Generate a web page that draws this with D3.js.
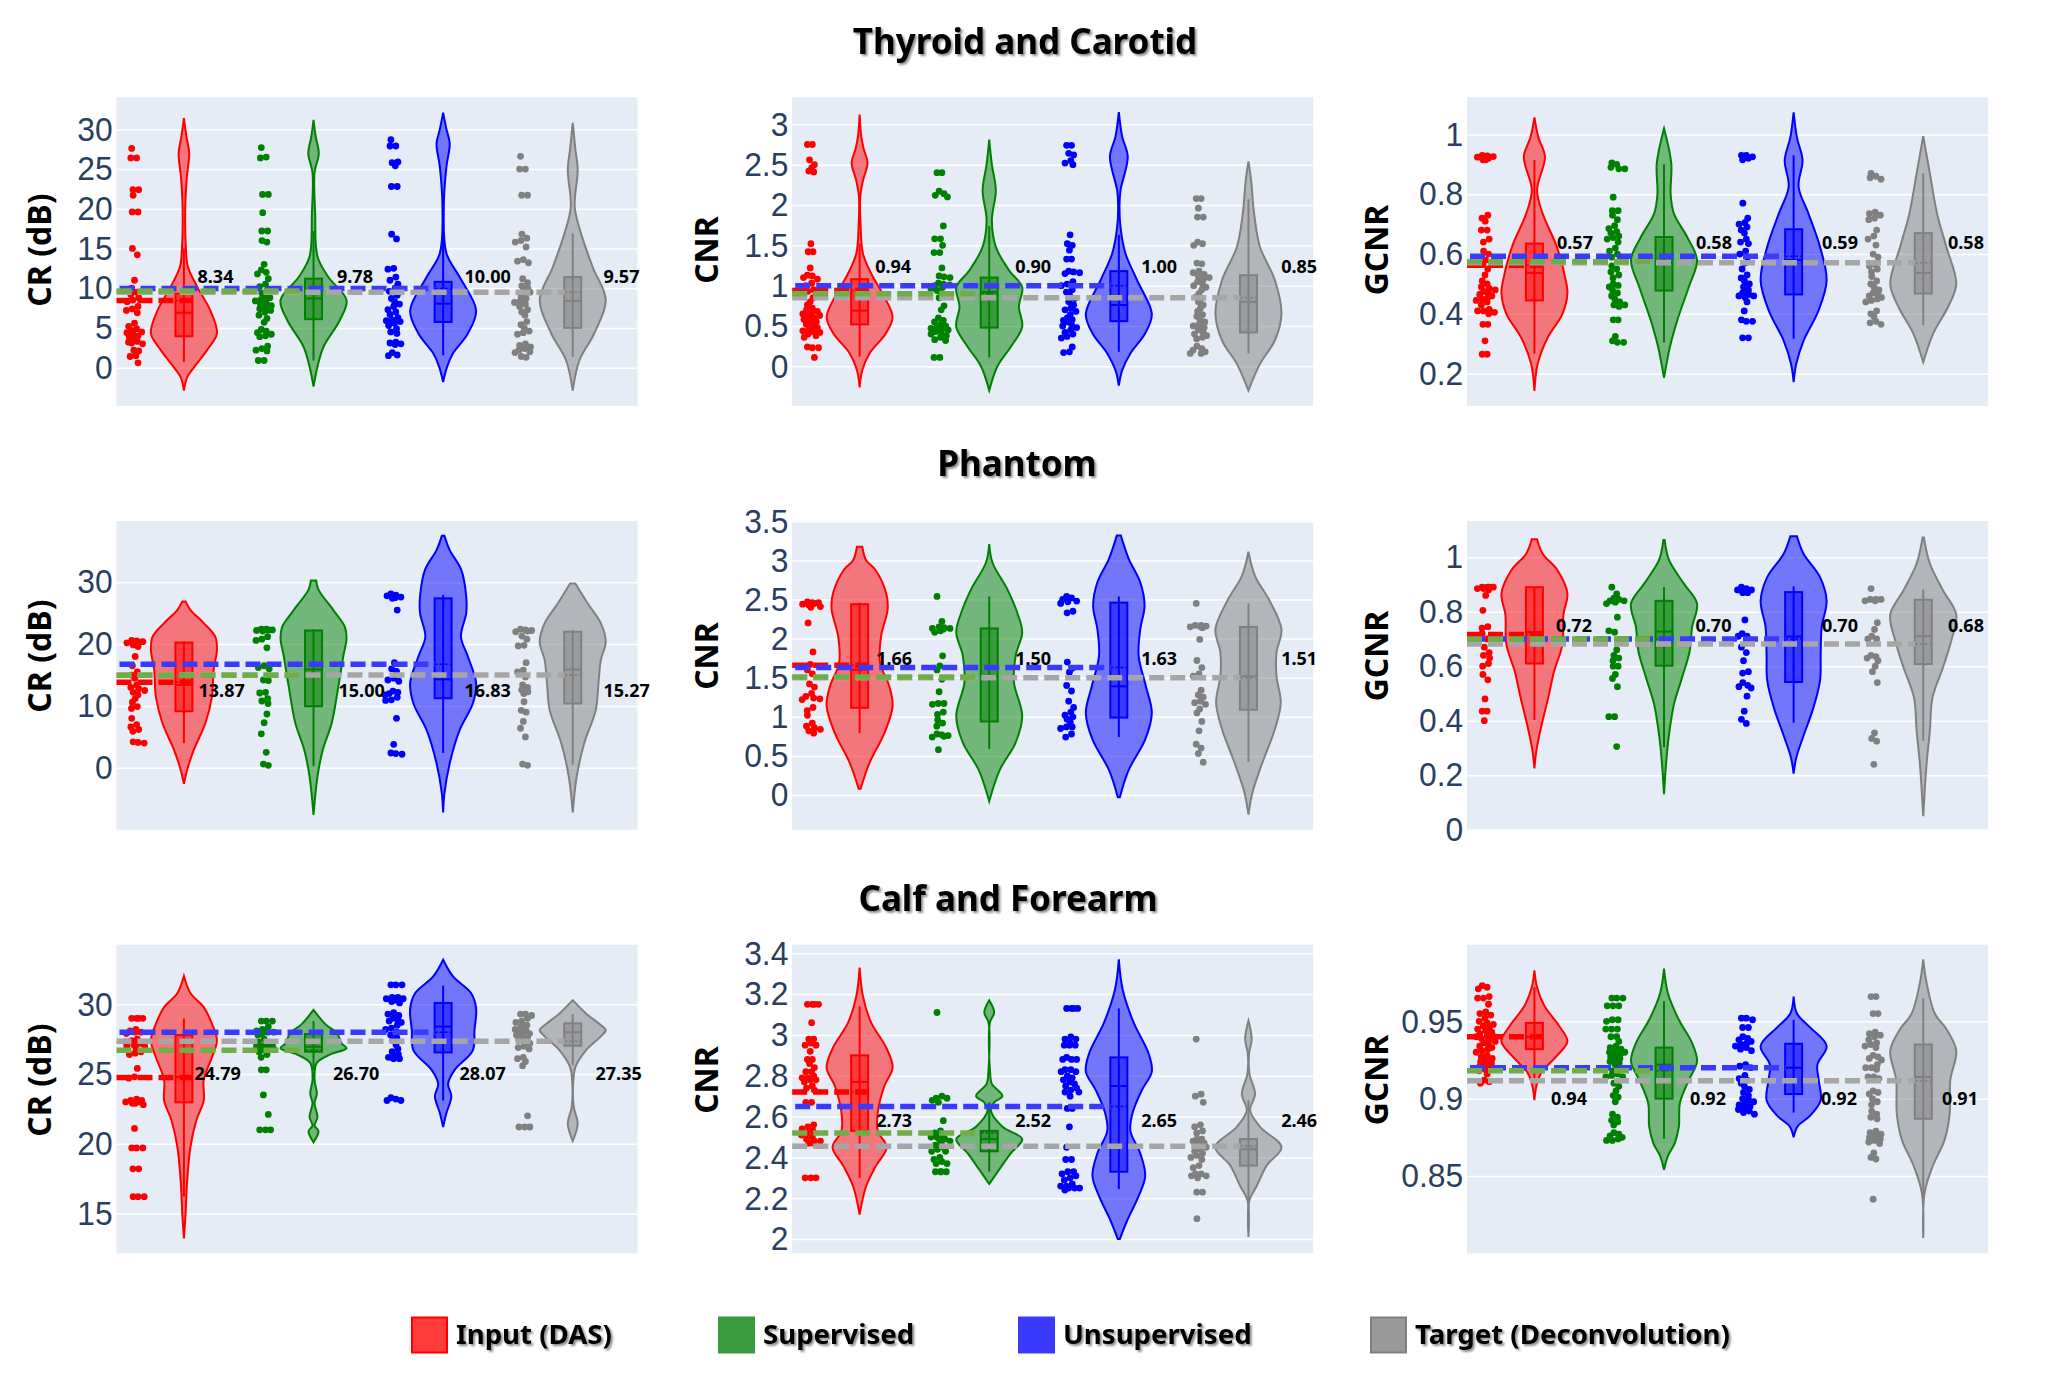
<!DOCTYPE html>
<html>
<head>
<meta charset="utf-8">
<script src="https://cdn.jsdelivr.net/npm/d3@7"></script>
<style>
  body { margin: 0; background: #fff; }
  .shadow { filter: drop-shadow(2px 2px 1px rgba(0,0,0,0.45)); }
</style>
</head>
<body>
<svg id="chart" width="2066" height="1377"></svg>
<script>
const groups = ['Input (DAS)', 'Supervised', 'Unsupervised', 'Target (Deconvolution)']
const rowTitles = ['Thyroid and Carotid', 'Phantom', 'Calf and Forearm']
const metricTitles = ['CR (dB)', 'CNR', 'GCNR']

// ---- Thyroid and Carotid, CR ----
const thyroidCrTicks = [0, 5, 10, 15, 20, 25, 30]
const thyroidCrDomain = [-4.83, 34.03]
const thyroidCrLabels = ['8.34', '9.78', '10.00', '9.57']
const thyroidCrMeans = [8.45, 9.66, 9.96, 9.5]
const thyroidCrBoxes = [[0.7, 3.95, 6.9, 9.3, 15], [0.9, 6.1, 8.7, 11.2, 17.2], [1.55, 5.75, 8.05, 10.8, 16.8], [1.35, 5, 8.4, 11.4, 16.9]]
const thyroidCrDensity = [
  [[31.4,0],[29,0.08],[27,0.16],[24,0.09],[20.2,0.04],[15,0.06],[12.7,0.12],[10.2,0.4],[7.2,0.8],[4.3,1],[2.2,0.7],[0,0.3],[-1.2,0.1],[-2.9,0]],
  [[31.2,0],[29,0.07],[27,0.16],[24.5,0.03],[19.4,0.05],[14,0.12],[11.4,0.45],[8.5,1],[6,0.8],[2.6,0.3],[0.1,0.12],[-2.4,0]],
  [[32.1,0],[30,0.1],[28.2,0.2],[25.3,0.1],[20.2,0.02],[14.4,0.1],[11.4,0.5],[7.2,1],[4.3,0.75],[1.8,0.3],[0.1,0.12],[-1.8,0]],
  [[30.8,0],[27.5,0.08],[24.9,0.15],[20.2,0.06],[16.9,0.25],[12.7,0.6],[8.5,1],[4.3,0.65],[0.9,0.2],[-2.9,0]]
]
const thyroidCrPoints = [
  [27.6,26.4,26.4,22.4,22.4,21.7,19.6,19.6,15,14.2,11,10,9.5,9.2,8.8,8.5,8.3,7.7,7.4,7.2,6.9,5.6,5.2,4.9,4.7,4.5,4.4,4.2,4,3.9,3.7,3.3,3.2,3.1,3,2.2,2.1,1.5,1.4,0.6],
  [27.7,26.5,26.4,21.8,21.8,19.5,17.2,17.2,16,15.8,13,12.3,12,11.8,11.2,10.5,10.2,9.8,9.4,9,8.8,8.6,8.4,8.2,8,7.8,7.6,7.4,7.2,7,6.6,6.2,5.7,4.8,4.6,4.4,4.2,4,3.9,2.7,2.4,2.2,2.1,0.9,0.9],
  [28.7,27.9,27.9,25.9,25.8,25.4,22.8,22.8,16.8,16.2,12.5,12.4,11.4,11,10.5,10,9.6,9.1,8.7,8.3,8,7.7,7.3,7,6.7,6.3,6,5.9,5.8,5.6,5.3,4.9,4.5,4.3,3.2,3.1,3,2.9,1.9,1.6,1.5],
  [26.6,25,25,21.7,21.7,16.8,16.3,16,15.8,15.2,13.6,13.4,13.2,11.2,10.7,10.3,10,9.8,9.5,9,8.7,8.4,8.2,8,7.7,7.3,7,6.6,5.8,5.4,5,4.6,4.4,4.2,3,2.8,2.6,2.4,2.2,2,1.9,1.4,1.3]
]

// ---- Thyroid and Carotid, CNR ----
const thyroidCnrTicks = [0, 0.5, 1, 1.5, 2, 2.5, 3]
const thyroidCnrDomain = [-0.492, 3.335]
const thyroidCnrLabels = ['0.94', '0.90', '1.00', '0.85']
const thyroidCnrMeans = [0.94, 0.9, 1, 0.85]
const thyroidCnrBoxes = [[0.12, 0.52, 0.69, 1.08, 1.52], [0.11, 0.48, 0.92, 1.1, 1.74], [0.18, 0.56, 0.76, 1.18, 1.63], [0.16, 0.42, 0.8, 1.13, 2.07]]
const thyroidCnrDensity = [
  [[3.12,0],[2.85,0.05],[2.7,0.12],[2.52,0.24],[2.3,0.1],[2.1,0.02],[1.75,0.03],[1.4,0.1],[1.15,0.35],[0.86,0.75],[0.61,1],[0.41,0.8],[0.16,0.3],[-0.05,0.08],[-0.26,0]],
  [[2.81,0],[2.5,0.08],[2.18,0.2],[1.81,0.08],[1.48,0.2],[1.19,0.6],[0.98,1],[0.74,0.9],[0.49,1],[0.24,0.65],[0,0.25],[-0.3,0]],
  [[3.15,0],[2.85,0.1],[2.6,0.27],[2.18,0.05],[1.98,0.02],[1.73,0.05],[1.4,0.2],[1.07,0.55],[0.65,1],[0.41,0.8],[0.16,0.35],[-0.05,0.1],[-0.24,0]],
  [[2.54,0],[2.31,0.08],[1.9,0.17],[1.48,0.35],[1.07,0.8],[0.65,1],[0.32,0.8],[0.03,0.35],[-0.3,0]]
]
const thyroidCnrPoints = [
  [2.75,2.75,2.56,2.5,2.46,2.42,2.41,1.52,1.42,1.42,1.22,1.13,1.12,1.1,1.08,1.03,1,0.95,0.93,0.9,0.85,0.8,0.76,0.72,0.7,0.68,0.66,0.65,0.63,0.62,0.6,0.58,0.56,0.55,0.52,0.5,0.48,0.45,0.44,0.43,0.42,0.4,0.38,0.36,0.24,0.23,0.23,0.11],
  [2.4,2.4,2.17,2.14,2.12,2.1,1.74,1.58,1.58,1.5,1.41,1.41,1.22,1.12,1.11,1.1,1.03,1.02,1.01,1,0.98,0.96,0.94,0.9,0.85,0.75,0.7,0.6,0.57,0.55,0.52,0.5,0.48,0.47,0.46,0.45,0.43,0.42,0.4,0.38,0.36,0.33,0.32,0.11,0.11],
  [2.74,2.74,2.64,2.62,2.55,2.52,2.5,1.63,1.52,1.5,1.44,1.33,1.33,1.18,1.17,1.16,1.15,1.05,1.02,1,0.95,0.92,0.88,0.84,0.8,0.76,0.72,0.7,0.68,0.64,0.6,0.58,0.57,0.55,0.52,0.5,0.48,0.45,0.42,0.4,0.37,0.35,0.24,0.18,0.17],
  [2.08,2.08,1.96,1.85,1.85,1.54,1.52,1.5,1.28,1.27,1.18,1.16,1.14,1.12,1.1,1.08,1.05,1.02,1,0.98,0.95,0.9,0.86,0.84,0.8,0.76,0.72,0.68,0.64,0.62,0.58,0.55,0.52,0.5,0.48,0.45,0.42,0.4,0.38,0.36,0.34,0.25,0.22,0.2,0.18,0.16,0.16]
]

// ---- Thyroid and Carotid, GCNR ----
const thyroidGcnrTicks = [0.2, 0.4, 0.6, 0.8, 1]
const thyroidGcnrDomain = [0.092, 1.124]
const thyroidGcnrLabels = ['0.57', '0.58', '0.59', '0.58']
const thyroidGcnrMeans = [0.5625, 0.574, 0.593, 0.571]
const thyroidGcnrBoxes = [[0.267, 0.445, 0.537, 0.635, 0.914], [0.304, 0.478, 0.57, 0.657, 0.9], [0.317, 0.465, 0.58, 0.683, 0.93], [0.362, 0.468, 0.537, 0.67, 0.87]]
const thyroidGcnrDensity = [
  [[1.057,0],[0.99,0.12],[0.925,0.32],[0.814,0.08],[0.735,0.25],[0.624,0.68],[0.512,0.95],[0.468,1],[0.4,0.85],[0.32,0.4],[0.233,0.1],[0.142,0]],
  [[1.02,0],[0.903,0.22],[0.8,0.2],[0.735,0.3],[0.657,0.7],[0.58,1],[0.49,0.75],[0.378,0.4],[0.29,0.18],[0.186,0]],
  [[1.074,0],[0.99,0.1],[0.914,0.27],[0.825,0.15],[0.735,0.45],[0.624,0.8],[0.512,1],[0.41,0.75],[0.31,0.3],[0.233,0.08],[0.172,0]],
  [[0.994,0],[0.87,0.2],[0.735,0.42],[0.624,0.7],[0.5,1],[0.423,0.75],[0.334,0.3],[0.238,0]]
]
const thyroidGcnrPoints = [
  [0.93,0.928,0.926,0.925,0.924,0.923,0.92,0.915,0.915,0.73,0.72,0.71,0.68,0.68,0.65,0.64,0.61,0.6,0.58,0.565,0.55,0.53,0.51,0.5,0.49,0.485,0.48,0.475,0.47,0.465,0.46,0.455,0.45,0.445,0.44,0.43,0.415,0.41,0.41,0.405,0.4,0.365,0.365,0.31,0.265,0.265],
  [0.905,0.9,0.89,0.885,0.885,0.79,0.745,0.745,0.73,0.715,0.695,0.685,0.675,0.67,0.66,0.655,0.65,0.64,0.62,0.61,0.6,0.59,0.56,0.55,0.54,0.53,0.52,0.5,0.495,0.49,0.48,0.47,0.46,0.45,0.44,0.43,0.43,0.425,0.38,0.38,0.325,0.31,0.305,0.305],
  [0.93,0.93,0.925,0.92,0.915,0.77,0.72,0.705,0.7,0.69,0.68,0.67,0.65,0.64,0.635,0.61,0.6,0.59,0.57,0.55,0.53,0.52,0.51,0.5,0.49,0.48,0.47,0.465,0.46,0.46,0.455,0.44,0.41,0.38,0.375,0.375,0.32,0.32],
  [0.87,0.86,0.855,0.85,0.74,0.735,0.73,0.72,0.715,0.68,0.66,0.65,0.63,0.6,0.59,0.565,0.56,0.55,0.54,0.525,0.51,0.5,0.49,0.48,0.47,0.465,0.46,0.455,0.45,0.445,0.44,0.41,0.4,0.39,0.375,0.37,0.365]
]

// ---- Phantom, CR ----
const phantomCrTicks = [0, 10, 20, 30]
const phantomCrDomain = [-10, 39.9]
const phantomCrLabels = ['13.87', '15.00', '16.83', '15.27']
const phantomCrMeans = [13.84, 14.97, 16.75, 15]
const phantomCrBoxes = [[4, 9.15, 13.4, 20.25, 20.4], [0.3, 9.96, 15.9, 22.2, 22.4], [2.4, 11.25, 14.3, 27.4, 27.95], [0.5, 10.4, 15.9, 22, 22.3]]
const phantomCrDensity = [
  [[26.9,0.05],[25.5,0.2],[23.4,0.6],[21.2,0.95],[19.1,1],[15.8,0.9],[11.5,0.85],[7.2,0.65],[2.9,0.3],[-0.3,0.1],[-2.6,0]],
  [[30.3,0.08],[28.8,0.15],[25.5,0.6],[22.8,0.95],[20.9,1],[18,0.9],[13.1,0.75],[7.2,0.55],[2.9,0.28],[-1.4,0.12],[-7.6,0]],
  [[37.5,0.04],[35.2,0.2],[32,0.55],[27.7,0.7],[25,0.7],[21.2,0.54],[18,0.75],[13.7,1],[10.4,0.9],[6.1,0.5],[0.75,0.2],[-4.1,0.04],[-7.2,0]],
  [[29.8,0.08],[26.6,0.45],[23.4,0.85],[20.4,1],[17.4,0.85],[13.7,0.78],[9.4,0.7],[4,0.35],[-1.4,0.12],[-7.2,0]]
]
const phantomCrPoints = [
  [20.6,20.5,20.4,20.3,20.2,19.9,19.6,18,16.5,15.5,15,14.5,13.4,13,12.8,12.5,12.2,11.8,11.2,10.6,9.9,9.6,8,7,6.6,6.2,5.9,4.2,4.1,4],
  [22.4,22.4,22.3,22.3,22.2,22.1,21.2,20.8,20.6,19.4,16.5,16.2,16,14.2,14.1,12.2,12.1,11.2,10.8,10.4,8.7,7.3,5.5,2.5,0.6,0.4],
  [28.1,27.9,27.8,27.6,27.5,27.4,25.5,17,16,15.6,14.5,14.2,14,12.4,12.2,12,11.8,11.4,11,10.9,8,3.8,2.4,2.3,2.2],
  [22.4,22.3,22.2,22.1,22,21.3,20.8,19.8,19.7,17,15.8,15.5,14.7,13.4,13,12.6,12.3,12,10.7,9.3,9,7.5,6.4,5,0.6,0.4]
]

// ---- Phantom, CNR ----
const phantomCnrTicks = [0, 0.5, 1, 1.5, 2, 2.5, 3, 3.5]
const phantomCnrDomain = [-0.444, 3.504]
const phantomCnrLabels = ['1.66', '1.50', '1.63', '1.51']
const phantomCnrMeans = [1.66, 1.51, 1.63, 1.5]
const phantomCnrBoxes = [[0.79, 1.115, 1.6, 2.44, 2.46], [0.59, 0.94, 1.52, 2.13, 2.54], [0.74, 0.99, 1.39, 2.46, 2.54], [0.42, 1.09, 1.52, 2.15, 2.45]]
const phantomCnrDensity = [
  [[3.175,0.08],[3,0.2],[2.89,0.46],[2.59,0.8],[2.38,0.85],[2.03,0.65],[1.69,0.62],[1.39,0.9],[1.14,1],[0.79,0.75],[0.41,0.3],[0.08,0.03]],
  [[3.21,0],[2.97,0.1],[2.63,0.55],[2.33,0.85],[2.08,1],[1.78,0.8],[1.44,0.75],[1.01,1],[0.67,0.8],[0.32,0.32],[-0.08,0]],
  [[3.32,0.06],[3.02,0.3],[2.72,0.65],[2.42,0.78],[2.12,0.65],[1.78,0.6],[1.39,0.82],[1.05,1],[0.71,0.8],[0.32,0.3],[-0.03,0.03]],
  [[3.11,0],[2.8,0.2],[2.5,0.62],[2.12,1],[1.82,0.85],[1.52,0.85],[1.18,0.98],[0.84,0.8],[0.41,0.42],[0.03,0.12],[-0.25,0]]
]
const phantomCnrPoints = [
  [2.47,2.46,2.46,2.45,2.44,2.43,2.41,2.4,2.2,1.83,1.67,1.6,1.55,1.42,1.38,1.3,1.26,1.24,1.23,1.22,1.12,1.08,1.02,0.92,0.88,0.86,0.84,0.82,0.79],
  [2.54,2.22,2.15,2.14,2.13,2.13,2.12,2.1,2.08,1.78,1.65,1.6,1.48,1.32,1.17,1.17,1.16,1.06,1.03,0.96,0.92,0.88,0.78,0.77,0.76,0.75,0.74,0.58],
  [2.54,2.52,2.5,2.48,2.47,2.45,2.35,2.33,1.7,1.62,1.57,1.4,1.33,1.2,1.12,1.06,1.02,1,0.97,0.93,0.87,0.87,0.85,0.78,0.74],
  [2.45,2.17,2.17,2.16,2.15,2.15,2.14,1.99,1.72,1.63,1.55,1.52,1.34,1.28,1.25,1.2,1.18,1.16,1.1,1.05,0.94,0.82,0.65,0.6,0.53,0.42]
]

// ---- Phantom, GCNR ----
const phantomGcnrTicks = [0, 0.2, 0.4, 0.6, 0.8, 1]
const phantomGcnrDomain = [0, 1.133]
const phantomGcnrLabels = ['0.72', '0.70', '0.70', '0.68']
const phantomGcnrMeans = [0.716, 0.7, 0.7, 0.682]
const phantomGcnrBoxes = [[0.403, 0.61, 0.725, 0.89, 0.89], [0.303, 0.602, 0.727, 0.84, 0.89], [0.393, 0.542, 0.709, 0.872, 0.893], [0.326, 0.608, 0.71, 0.844, 0.882]]
const phantomGcnrDensity = [
  [[1.066,0.08],[1.013,0.25],[0.952,0.7],[0.866,1],[0.79,0.88],[0.68,0.85],[0.583,0.6],[0.485,0.42],[0.375,0.2],[0.29,0.06],[0.225,0]],
  [[1.063,0.02],[0.99,0.15],[0.903,0.6],[0.83,1],[0.743,0.85],[0.657,0.78],[0.56,0.55],[0.46,0.3],[0.338,0.14],[0.24,0.06],[0.13,0]],
  [[1.077,0.1],[1.013,0.3],[0.927,0.8],[0.84,1],[0.743,0.85],[0.645,0.82],[0.547,0.8],[0.448,0.6],[0.338,0.28],[0.264,0.08],[0.206,0]],
  [[1.072,0.02],[0.977,0.2],[0.878,0.6],[0.79,1],[0.694,0.85],[0.596,0.6],[0.485,0.28],[0.362,0.2],[0.24,0.1],[0.05,0]]
]
const phantomGcnrPoints = [
  [0.89,0.89,0.89,0.89,0.885,0.885,0.88,0.86,0.805,0.745,0.74,0.72,0.7,0.67,0.65,0.64,0.63,0.61,0.6,0.57,0.55,0.48,0.435,0.435,0.4],
  [0.89,0.865,0.85,0.845,0.84,0.84,0.84,0.835,0.83,0.78,0.725,0.73,0.66,0.64,0.63,0.62,0.6,0.6,0.57,0.555,0.525,0.415,0.415,0.305],
  [0.89,0.885,0.88,0.88,0.875,0.87,0.87,0.77,0.72,0.71,0.71,0.67,0.65,0.62,0.58,0.575,0.54,0.53,0.525,0.52,0.49,0.435,0.405,0.39],
  [0.885,0.845,0.845,0.845,0.84,0.84,0.76,0.735,0.71,0.7,0.7,0.64,0.635,0.63,0.62,0.6,0.58,0.54,0.355,0.335,0.325,0.24]
]

// ---- Calf and Forearm, CR ----
const calfCrTicks = [15, 20, 25, 30]
const calfCrDomain = [12.13, 34.28]
const calfCrLabels = ['24.79', '26.70', '28.07', '27.35']
const calfCrMeans = [24.76, 26.7, 28, 27.35]
const calfCrBoxes = [[16.2, 22.97, 24.8, 27.8, 29], [25.3, 26.6, 26.96, 27.87, 28.8], [23.1, 26.55, 28.4, 30.1, 31.34], [25.65, 27.03, 28, 28.64, 29.3]]
const calfCrDensity = [
  [[32.03,0],[30.8,0.2],[29.8,0.6],[28.6,0.85],[27.4,1],[26.2,0.85],[24.6,0.6],[23.1,0.6],[21.7,0.38],[19.8,0.2],[17.4,0.1],[15,0.05],[13.2,0]],
  [[29.6,0],[28.6,0.35],[27.9,0.72],[27.2,0.85],[26.85,1],[26.4,0.5],[25.8,0.1],[24.6,0.03],[23.6,0.1],[22.9,0.03],[21.9,0.12],[21.3,0.03],[20.9,0.15],[20.1,0]],
  [[33.2,0],[32,0.3],[30.8,0.85],[29.7,1],[28.15,0.95],[26.7,0.9],[25.3,0.35],[24.3,0.15],[23.4,0.25],[22.2,0.1],[21.2,0]],
  [[30.3,0],[29.35,0.4],[28.6,0.8],[28.15,1],[27.7,0.85],[26.7,0.4],[25.5,0.08],[24.6,0.02],[22.65,0.03],[21.45,0.15],[20.2,0]]
]
const calfCrPoints = [
  [29,29,29,29,28.2,28.1,28,28,27.9,27.5,27.4,27.3,27.2,27.1,27,27,26.8,26.6,26.5,26.4,25.4,24.8,24.7,23.2,23.1,23.1,23,23,23,22.9,22.9,22.8,21.1,19.7,19.7,19.7,18.2,18.2,16.2,16.2,16.2],
  [28.8,28.8,28.8,28.4,28.2,28.1,28,28,27.9,27.8,27.5,27.3,27.2,27.1,27,27,26.9,26.8,26.7,26.6,26.4,26.2,25.3,25.3,23.5,22.1,21,21,21],
  [31.4,31.4,31.4,30.5,30.5,30.4,30.4,30.3,30.2,30.1,29.4,29.3,29.2,29,28.9,28.8,28.7,28.5,28.3,28.2,28,27.8,27.6,27.4,27.1,26.8,26.6,26.4,26.3,26.2,26.2,26.1,26.1,23.3,23.2,23.1,23.1],
  [29.3,29.3,29.2,29,28.8,28.7,28.5,28.4,28.2,28.1,28,27.9,27.8,27.7,27.6,27.5,27.3,27.2,27,26.9,26.8,26.2,26.1,25.9,25.6,22,21.2,21.2,21.2]
]

// ---- Calf and Forearm, CNR ----
const calfCnrTicks = [2, 2.2, 2.4, 2.6, 2.8, 3, 3.2, 3.4]
const calfCnrDomain = [1.93, 3.442]
const calfCnrLabels = ['2.73', '2.52', '2.65', '2.46']
const calfCnrMeans = [2.72, 2.52, 2.65, 2.455]
const calfCnrBoxes = [[2.3, 2.53, 2.77, 2.9, 3.14], [2.33, 2.43, 2.49, 2.53, 2.67], [2.245, 2.33, 2.75, 2.89, 3.13], [2.1, 2.36, 2.44, 2.49, 2.68]]
const calfCnrDensity = [
  [[3.33,0],[3.19,0.1],[3.06,0.35],[2.94,0.8],[2.84,1],[2.75,0.75],[2.62,0.55],[2.53,0.55],[2.45,0.82],[2.36,0.5],[2.26,0.2],[2.12,0]],
  [[3.17,0],[3.11,0.15],[3.06,0.02],[2.81,0.03],[2.76,0.08],[2.7,0.4],[2.67,0.15],[2.63,0.05],[2.55,0.4],[2.49,1],[2.42,0.65],[2.34,0.3],[2.27,0]],
  [[3.37,0],[3.22,0.12],[3.06,0.45],[2.91,0.9],[2.82,1],[2.73,0.7],[2.62,0.42],[2.53,0.35],[2.42,0.65],[2.31,0.8],[2.21,0.6],[2.09,0.25],[2,0.03]],
  [[3.07,0],[2.98,0.1],[2.91,0.02],[2.81,0.03],[2.71,0.2],[2.63,0.05],[2.55,0.35],[2.45,1],[2.36,0.55],[2.26,0.25],[2.19,0.03],[2.01,0]]
]
const calfCnrPoints = [
  [3.15,3.15,3.15,3.15,3.06,2.98,2.98,2.96,2.95,2.95,2.92,2.88,2.88,2.86,2.84,2.82,2.82,2.8,2.79,2.79,2.78,2.78,2.77,2.75,2.74,2.73,2.67,2.67,2.56,2.55,2.54,2.53,2.52,2.51,2.5,2.49,2.48,2.48,2.47,2.47,2.3,2.3,2.3],
  [3.11,2.7,2.69,2.69,2.68,2.67,2.58,2.53,2.52,2.51,2.5,2.5,2.49,2.49,2.48,2.47,2.46,2.45,2.44,2.43,2.43,2.4,2.39,2.38,2.37,2.37,2.33,2.33,2.33,2.33],
  [3.13,3.13,3.13,3.13,2.99,2.98,2.98,2.96,2.95,2.95,2.95,2.89,2.88,2.88,2.88,2.83,2.83,2.82,2.82,2.8,2.79,2.78,2.77,2.76,2.75,2.74,2.73,2.72,2.72,2.7,2.64,2.64,2.55,2.45,2.39,2.39,2.33,2.33,2.32,2.31,2.3,2.29,2.27,2.26,2.26,2.25,2.25,2.25,2.24],
  [2.98,2.71,2.7,2.67,2.56,2.55,2.53,2.52,2.49,2.49,2.48,2.47,2.47,2.46,2.45,2.44,2.43,2.42,2.41,2.4,2.39,2.36,2.35,2.32,2.32,2.31,2.31,2.3,2.23,2.23,2.1]
]

// ---- Calf and Forearm, GCNR ----
const calfGcnrTicks = [0.85, 0.9, 0.95]
const calfGcnrDomain = [0.8, 0.9995]
const calfGcnrLabels = ['0.94', '0.92', '0.92', '0.91']
const calfGcnrMeans = [0.94, 0.918, 0.92, 0.9115]
const calfGcnrBoxes = [[0.91, 0.932, 0.94, 0.949, 0.972], [0.874, 0.9, 0.922, 0.933, 0.963], [0.891, 0.903, 0.92, 0.9355, 0.951], [0.835, 0.887, 0.914, 0.935, 0.965]]
const calfGcnrDensity = [
  [[0.983,0],[0.972,0.08],[0.96,0.3],[0.947,0.75],[0.937,1],[0.927,0.65],[0.9165,0.2],[0.908,0.06],[0.899,0]],
  [[0.984,0],[0.968,0.12],[0.951,0.45],[0.936,0.85],[0.924,1],[0.912,0.75],[0.897,0.48],[0.882,0.45],[0.871,0.32],[0.863,0.12],[0.854,0]],
  [[0.966,0],[0.955,0.1],[0.947,0.45],[0.934,1],[0.922,0.72],[0.912,0.76],[0.899,0.82],[0.889,0.5],[0.882,0.12],[0.875,0]],
  [[0.99,0],[0.975,0.1],[0.955,0.35],[0.945,0.7],[0.931,1],[0.912,0.82],[0.89,0.8],[0.8735,0.65],[0.856,0.28],[0.839,0.04],[0.81,0]]
]
const calfGcnrPoints = [
  [0.973,0.972,0.971,0.966,0.965,0.965,0.961,0.956,0.955,0.954,0.952,0.95,0.949,0.948,0.947,0.946,0.945,0.944,0.943,0.942,0.941,0.94,0.94,0.94,0.939,0.938,0.937,0.936,0.935,0.934,0.933,0.932,0.931,0.93,0.928,0.927,0.926,0.925,0.924,0.923,0.922,0.921,0.92,0.919,0.918,0.916,0.912,0.911,0.91],
  [0.965,0.965,0.965,0.96,0.96,0.96,0.951,0.951,0.95,0.945,0.945,0.945,0.94,0.94,0.937,0.934,0.933,0.932,0.931,0.93,0.93,0.929,0.928,0.927,0.926,0.925,0.924,0.923,0.922,0.92,0.918,0.916,0.915,0.914,0.914,0.91,0.908,0.905,0.902,0.901,0.898,0.89,0.888,0.886,0.885,0.883,0.878,0.877,0.876,0.875,0.874,0.873,0.873],
  [0.952,0.952,0.951,0.946,0.946,0.94,0.939,0.938,0.937,0.936,0.935,0.934,0.933,0.932,0.931,0.922,0.921,0.92,0.915,0.913,0.912,0.91,0.908,0.906,0.904,0.902,0.9,0.899,0.898,0.897,0.896,0.895,0.894,0.893,0.892,0.891,0.89],
  [0.966,0.966,0.955,0.955,0.943,0.942,0.941,0.94,0.938,0.936,0.935,0.934,0.933,0.928,0.927,0.926,0.925,0.922,0.92,0.92,0.919,0.914,0.914,0.913,0.905,0.904,0.903,0.9,0.898,0.896,0.892,0.89,0.888,0.887,0.879,0.878,0.877,0.876,0.875,0.874,0.873,0.872,0.871,0.865,0.862,0.861,0.835]
]

// layout, kept apart from the data
const colLeft = [116.5, 792.2, 1467]
const rowTop = [97.3, 521, 944.7]
const plotW = 521, plotH = 308.7
const colors = ['#ff0000', '#008000', '#0000ff', '#808080']
const fills = ['rgba(255,0,0,0.5)', 'rgba(0,128,0,0.5)', 'rgba(0,0,255,0.5)', 'rgba(128,128,128,0.5)']
const lineOrder = [0, 2, 3, 1]
const lineColorOf = ['#ff0000', '#70ad47', '#3a3aff', '#a6a6a6']
const swatchFills = ['#ff3b3b', '#3a9a3e', '#3a3aff', '#999999']
const swatchStrokes = ['#ff0000', '#3a9a3e', '#3a3aff', '#808080']
const legendX = [412, 719, 1019, 1371]
const titleCenters = [[1025, 40], [1017, 462], [1008, 897]]
const axisTitleX = [38, 705, 1375]
const axisTitleY = [250, 656, 1080]
const labelX = [
  [[81, 220.5, 348, 487], [83, 223, 349, 489], [90, 229, 355, 481]],
  [[82, 222, 348, 487], [84, 223, 349, 489], [89, 228.5, 355, 481]],
  [[78, 216.5, 343, 479], [84, 223, 349, 489], [84, 223, 354, 475]]
]
const labelY = [[178.7, 169, 145], [169, 136.7, 103.7], [128, 175, 153]]

const panels = [
  [
    {ticks: thyroidCrTicks, domain: thyroidCrDomain, labels: thyroidCrLabels, means: thyroidCrMeans, boxes: thyroidCrBoxes, density: thyroidCrDensity, points: thyroidCrPoints},
    {ticks: thyroidCnrTicks, domain: thyroidCnrDomain, labels: thyroidCnrLabels, means: thyroidCnrMeans, boxes: thyroidCnrBoxes, density: thyroidCnrDensity, points: thyroidCnrPoints},
    {ticks: thyroidGcnrTicks, domain: thyroidGcnrDomain, labels: thyroidGcnrLabels, means: thyroidGcnrMeans, boxes: thyroidGcnrBoxes, density: thyroidGcnrDensity, points: thyroidGcnrPoints}
  ],
  [
    {ticks: phantomCrTicks, domain: phantomCrDomain, labels: phantomCrLabels, means: phantomCrMeans, boxes: phantomCrBoxes, density: phantomCrDensity, points: phantomCrPoints},
    {ticks: phantomCnrTicks, domain: phantomCnrDomain, labels: phantomCnrLabels, means: phantomCnrMeans, boxes: phantomCnrBoxes, density: phantomCnrDensity, points: phantomCnrPoints},
    {ticks: phantomGcnrTicks, domain: phantomGcnrDomain, labels: phantomGcnrLabels, means: phantomGcnrMeans, boxes: phantomGcnrBoxes, density: phantomGcnrDensity, points: phantomGcnrPoints}
  ],
  [
    {ticks: calfCrTicks, domain: calfCrDomain, labels: calfCrLabels, means: calfCrMeans, boxes: calfCrBoxes, density: calfCrDensity, points: calfCrPoints},
    {ticks: calfCnrTicks, domain: calfCnrDomain, labels: calfCnrLabels, means: calfCnrMeans, boxes: calfCnrBoxes, density: calfCnrDensity, points: calfCnrPoints},
    {ticks: calfGcnrTicks, domain: calfGcnrDomain, labels: calfGcnrLabels, means: calfGcnrMeans, boxes: calfGcnrBoxes, density: calfGcnrDensity, points: calfGcnrPoints}
  ]
]

const svg = d3.select('#chart')
const xScale = d3.scalePoint().domain(groups).range([0.1294 * plotW, 0.8757 * plotW])
const stripOffset = -0.0935 * plotW
const violinHalf = 33, boxHalf = 8.5, pointR = 3.4

// spread the strip sideways so equal values do not sit on top of each other
const spread = (values, yScale) => {
  let placed = []
  return values.map((v, i) => {
    let y = yScale(v)
    let base = ((i * 7) % 11 - 5) * 0.7
    let tries = [0, 3, -3, 6, -6, 9, -9]
    let dx = base
    for (let t of tries) {
      let cand = Math.max(-9.5, Math.min(9.5, base + t))
      if (!placed.some(p => Math.hypot(p.dx - cand, p.y - y) < pointR * 1.25)) { dx = cand; break }
    }
    placed.push({dx: dx, y: y})
    return {dx: dx, y: y}
  })
}

const drawPanel = (p, r, c) => {
  let g = svg.append('g').attr('transform', `translate(${colLeft[c]},${rowTop[r]})`)
  g.append('rect').attr('width', plotW).attr('height', plotH).attr('fill', '#e5ecf6')

  let y = d3.scaleLinear().domain(p.domain).range([plotH, 0])
  let axis = g.append('g').call(d3.axisLeft(y).tickValues(p.ticks).tickSize(-plotW).tickPadding(4).tickFormat(d => String(d)))
  axis.select('.domain').remove()
  axis.selectAll('line').attr('stroke', '#fff').attr('stroke-width', 1.5)
  // tall narrow tick numbers; Liberation has a tight line box so close ticks stay clear
  axis.selectAll('text').attr('fill', '#2a3f5f').style('font', '33.5px "Liberation Sans"').attr('transform', 'scale(0.95,1)')

  groups.forEach((name, i) => {
    let cx = xScale(name)

    g.append('g').selectAll('circle')
      .data(spread(p.points[i], y))
      .enter()
      .append('circle')
      .attr('cx', d => cx + stripOffset + d.dx)
      .attr('cy', d => d.y)
      .attr('r', pointR)
      .attr('fill', colors[i])

    let area = d3.area()
      .y(d => y(d[0]))
      .x0(d => cx - d[1] * violinHalf)
      .x1(d => cx + d[1] * violinHalf)
      .curve(d3.curveCatmullRom.alpha(0.5))
    g.append('path').datum(p.density[i]).attr('d', area)
      .attr('fill', fills[i]).attr('stroke', colors[i]).attr('stroke-width', 2)

    let b = p.boxes[i]
    g.append('line').attr('x1', cx).attr('x2', cx).attr('y1', y(b[0])).attr('y2', y(b[4]))
      .attr('stroke', colors[i]).attr('stroke-width', 2)
    g.append('rect').attr('x', cx - boxHalf).attr('width', boxHalf * 2)
      .attr('y', y(b[3])).attr('height', y(b[1]) - y(b[3]))
      .attr('fill', fills[i]).attr('stroke', colors[i]).attr('stroke-width', 2)
    g.append('line').attr('x1', cx - boxHalf).attr('x2', cx + boxHalf).attr('y1', y(b[2])).attr('y2', y(b[2]))
      .attr('stroke', colors[i]).attr('stroke-width', 2)
    g.append('line').attr('x1', cx - boxHalf).attr('x2', cx + boxHalf).attr('y1', y(p.means[i])).attr('y2', y(p.means[i]))
      .attr('stroke', colors[i]).attr('stroke-width', 1.5).attr('stroke-dasharray', '3 2')
  })

  // dashed mean lines, green over grey
  lineOrder.forEach(i => {
    let cx = xScale(groups[i])
    g.append('line')
      .attr('x1', i === 2 ? 3 : 0).attr('x2', cx + (i === 0 ? 8 : -8))
      .attr('y1', y(p.means[i])).attr('y2', y(p.means[i]))
      .attr('stroke', lineColorOf[i]).attr('stroke-width', 5.5).attr('stroke-dasharray', '15 6')
  })

  p.labels.forEach((t, i) => {
    g.append('text').attr('x', labelX[r][c][i]).attr('y', labelY[r][c])
      .attr('dominant-baseline', 'central')
      .style('font', 'bold 18px "Noto Sans"').attr('fill', '#000')
      .text(t)
  })

  svg.append('text')
    .attr('transform', `translate(${axisTitleX[c]},${axisTitleY[r]}) rotate(-90)`)
    .attr('text-anchor', 'middle').attr('dominant-baseline', 'central')
    .style('font', 'bold 32px "Open Sans"').attr('fill', '#000')
    .text(metricTitles[c])
}

panels.forEach((row, r) => row.forEach((p, c) => drawPanel(p, r, c)))

rowTitles.forEach((t, r) => {
  svg.append('text').attr('class', 'shadow')
    .attr('x', titleCenters[r][0]).attr('y', titleCenters[r][1])
    .attr('text-anchor', 'middle').attr('dominant-baseline', 'central')
    .style('font', 'bold 35px "Noto Sans"').attr('fill', '#000')
    .text(t)
})

groups.forEach((name, i) => {
  svg.append('rect').attr('x', legendX[i]).attr('y', 1317.5).attr('width', 35).attr('height', 35)
    .attr('fill', swatchFills[i]).attr('stroke', swatchStrokes[i]).attr('stroke-width', 2)
  svg.append('text').attr('class', 'shadow')
    .attr('x', legendX[i] + 44).attr('y', 1333)
    .attr('dominant-baseline', 'central')
    .style('font', 'bold 27.6px "Noto Sans"').attr('fill', '#000')
    .text(name)
})
</script>
</body>
</html>
